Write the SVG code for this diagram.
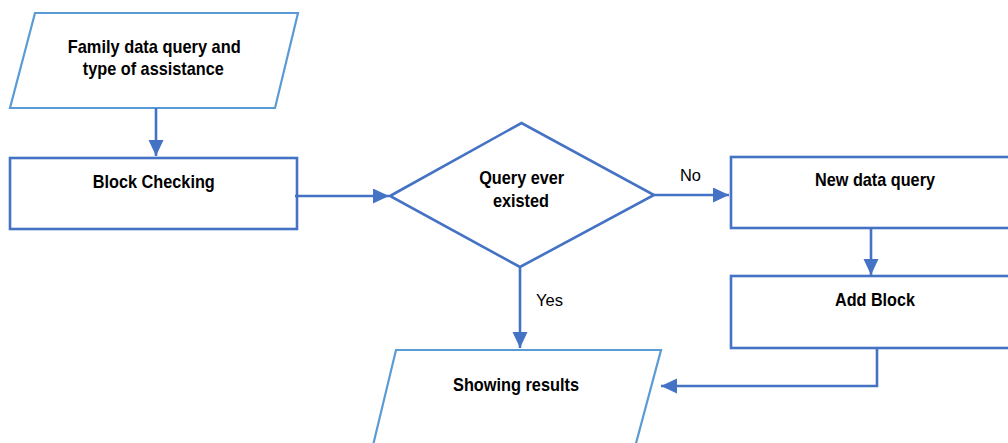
<svg xmlns="http://www.w3.org/2000/svg" width="1008" height="443" viewBox="0 0 1008 443">
<style>
.io{fill:#fff;stroke:#5B9BD5;stroke-width:2.2}
.box{fill:#fff;stroke:#4472C4;stroke-width:2.6}
.edge{fill:none;stroke:#4472C4;stroke-width:2.6}
.t{font-family:"Liberation Sans",Arial,sans-serif;font-weight:bold;font-size:18.5px;fill:#000;text-anchor:middle}
.l{font-family:"Liberation Sans",Arial,sans-serif;font-size:17px;fill:#000}
</style>
<defs>
<marker id="ah" markerUnits="userSpaceOnUse" markerWidth="17" markerHeight="16" refX="16" refY="7.5" orient="auto">
<path d="M0,0 L16,7.5 L0,15 z" fill="#4472C4"/>
</marker>
</defs>
<rect width="1008" height="443" fill="#fff"/>
<g id="n-input">
<polygon class="io" points="35,13 298,13 275,108 10,108"/>
<text class="t" x="154.2" y="53" textLength="173" lengthAdjust="spacingAndGlyphs">Family data query and</text>
<text class="t" x="153.3" y="75" textLength="141" lengthAdjust="spacingAndGlyphs">type of assistance</text>
</g>
<g id="n-block-checking">
<rect class="box" x="10" y="158" width="287" height="71"/>
<text class="t" x="153.8" y="188" textLength="122" lengthAdjust="spacingAndGlyphs">Block Checking</text>
</g>
<g id="n-decision">
<polygon class="box" points="390,196 521.5,123 654,195 520,267"/>
<text class="t" x="521.7" y="184" textLength="85" lengthAdjust="spacingAndGlyphs">Query ever</text>
<text class="t" x="521" y="207" textLength="56" lengthAdjust="spacingAndGlyphs">existed</text>
</g>
<g id="n-new-data-query">
<rect class="box" x="731" y="157" width="290" height="71"/>
<text class="t" x="875" y="185.7" textLength="120" lengthAdjust="spacingAndGlyphs">New data query</text>
</g>
<g id="n-add-block">
<rect class="box" x="731" y="276" width="290" height="72"/>
<text class="t" x="875" y="305.7" textLength="80" lengthAdjust="spacingAndGlyphs">Add Block</text>
</g>
<g id="n-showing-results">
<polygon class="io" points="396,350 661,350 631,462 369,462"/>
<text class="t" x="516" y="391" textLength="126" lengthAdjust="spacingAndGlyphs">Showing results</text>
</g>
<g id="connectors">
<path class="edge" d="M156,108 V156" marker-end="url(#ah)"/>
<path class="edge" d="M295,196 H389" marker-end="url(#ah)"/>
<path class="edge" d="M654,195 H729" marker-end="url(#ah)"/>
<path class="edge" d="M871,228 V275" marker-end="url(#ah)"/>
<path class="edge" d="M520,267 V348" marker-end="url(#ah)"/>
<path class="edge" d="M877,348 V386 H661" marker-end="url(#ah)"/>
<text class="l" x="680" y="180.7" textLength="21" lengthAdjust="spacingAndGlyphs">No</text>
<text class="l" x="536" y="306" textLength="27" lengthAdjust="spacingAndGlyphs">Yes</text>
</g>
</svg>
